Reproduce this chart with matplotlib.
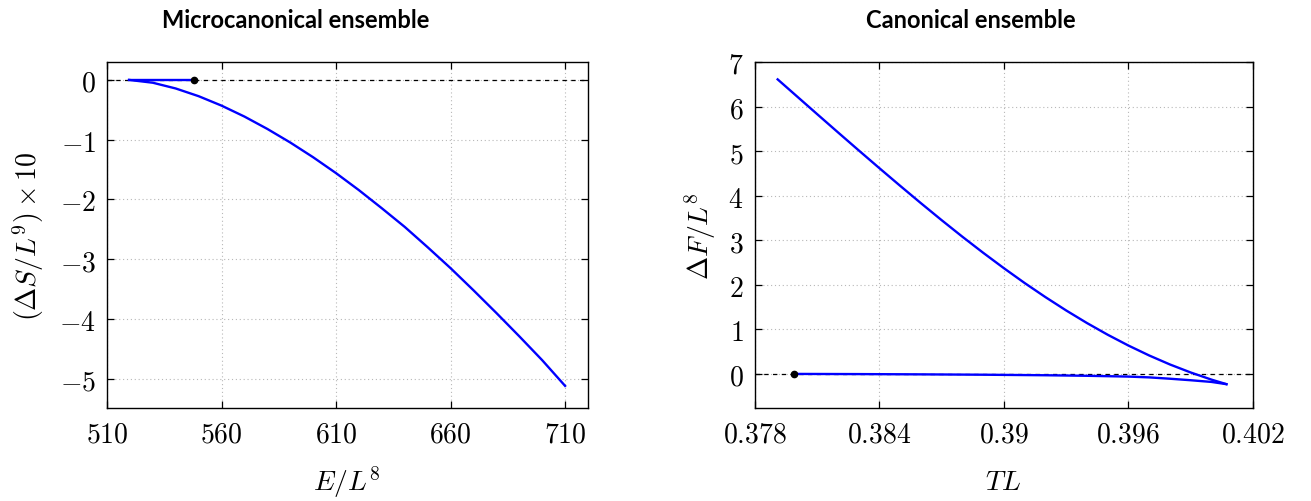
import matplotlib
matplotlib.use("Agg")
import matplotlib.pyplot as plt

plt.rcParams["mathtext.fontset"] = "cm"

# Microcanonical ensemble: entropy difference vs energy
E_curve = [519.7, 530, 540, 550, 560, 570, 580, 590, 600, 610, 620, 630,
           640, 650, 660, 670, 680, 690, 700, 710]
dS_curve = [0, -0.047, -0.143, -0.272, -0.43, -0.613, -0.82, -1.047, -1.294,
            -1.56, -1.845, -2.148, -2.46, -2.80, -3.15, -3.52, -3.90, -4.29,
            -4.69, -5.12]
E_flat = [519.7, 547.8]
dS_flat = [0, 0]
E_point = 547.8
dS_point = 0

# Canonical ensemble: free-energy difference vs temperature
TL_upper = [0.37911, 0.380, 0.381, 0.382, 0.383, 0.384, 0.385, 0.386, 0.387,
            0.388, 0.389, 0.390, 0.391, 0.392, 0.393, 0.394, 0.395, 0.396,
            0.397, 0.398, 0.399, 0.400, 0.40072]
dF_upper = [6.61, 6.245, 5.835, 5.427, 5.022, 4.621, 4.225, 3.835, 3.453,
            3.081, 2.721, 2.374, 2.041, 1.725, 1.425, 1.143, 0.880, 0.637,
            0.414, 0.212, 0.032, -0.128, -0.23]
TL_lower = [0.3799, 0.383, 0.386, 0.389, 0.392, 0.394, 0.396, 0.397,
            0.398, 0.399, 0.400, 0.40072]
dF_lower = [0, -0.004, -0.010, -0.018, -0.030, -0.042, -0.060, -0.078,
            -0.108, -0.142, -0.180, -0.23]
TL_point = 0.3799
dF_point = 0

left_xticks = [510, 560, 610, 660, 710]
left_yticks = [0, -1, -2, -3, -4, -5]
right_xticks = [0.378, 0.384, 0.39, 0.396, 0.402]
right_yticks = [0, 1, 2, 3, 4, 5, 6, 7]

W, H = 1311, 502
fig = plt.figure(figsize=(W / 100, H / 100), dpi=100)

ax1 = fig.add_axes([107 / W, 1 - 409 / H, (588 - 107) / W, (409 - 63) / H])
ax2 = fig.add_axes([754.6 / W, 1 - 409 / H, (1253 - 754.6) / W, (409 - 63) / H])

BLUE = "#0000ff"
FS = 20


def style(ax, xt, yt):
    ax.set_xticks(xt)
    ax.set_xticklabels([f"${t:g}$" for t in xt], fontsize=FS)
    ax.set_yticks(yt)
    ax.set_yticklabels([f"${t:g}$" for t in yt], fontsize=FS)
    ax.tick_params(direction="in", length=5, width=0.9, top=True, right=True,
                   pad=8, colors="black")
    ax.grid(True, color="#b8b8b8", linestyle=(0, (1, 2.5)), linewidth=0.8)
    ax.set_axisbelow(True)
    for s in ax.spines.values():
        s.set_linewidth(1.0)
    ax.axhline(0, color="black", linewidth=0.9, dashes=(3.5, 3.5), zorder=2)


style(ax1, left_xticks, left_yticks)
ax1.set_xlim(510, 720)
ax1.set_ylim(-5.49, 0.30)
ax1.plot(E_flat, dS_flat, color=BLUE, linewidth=1.7, zorder=3)
ax1.plot(E_curve, dS_curve, color=BLUE, linewidth=1.7, zorder=3)
ax1.plot([E_point], [dS_point], "o", color="black", markersize=4.5, zorder=4)

style(ax2, right_xticks, right_yticks)
ax2.set_xlim(0.378, 0.402)
ax2.set_ylim(-0.765, 7.0)
ax2.plot(TL_upper, dF_upper, color=BLUE, linewidth=1.7, zorder=3)
ax2.plot(TL_lower, dF_lower, color=BLUE, linewidth=1.7, zorder=3)
ax2.plot([TL_point], [dF_point], "o", color="black", markersize=4.5, zorder=4)

# axis labels
fig.text(347 / W, 1 - 482 / H, r"$E/L^8$", fontsize=FS, ha="center", va="center")
fig.text(1003 / W, 1 - 482 / H, r"$TL$", fontsize=FS, ha="center", va="center")
fig.text(28 / W, 1 - 236 / H, r"$(\Delta S/L^9)\times 10$", fontsize=FS,
         ha="center", va="center", rotation=90)
fig.text(700 / W, 1 - 236 / H, r"$\Delta F/L^8$", fontsize=FS,
         ha="center", va="center", rotation=90)

# panel titles
fig.text(296 / W, 1 - 20 / H, "Microcanonical ensemble", fontsize=17,
         fontweight="bold", family="Lato", ha="center", va="center")
fig.text(971 / W, 1 - 20 / H, "Canonical ensemble", fontsize=17,
         fontweight="bold", family="Lato", ha="center", va="center")

fig.savefig("out.png", dpi=100)
